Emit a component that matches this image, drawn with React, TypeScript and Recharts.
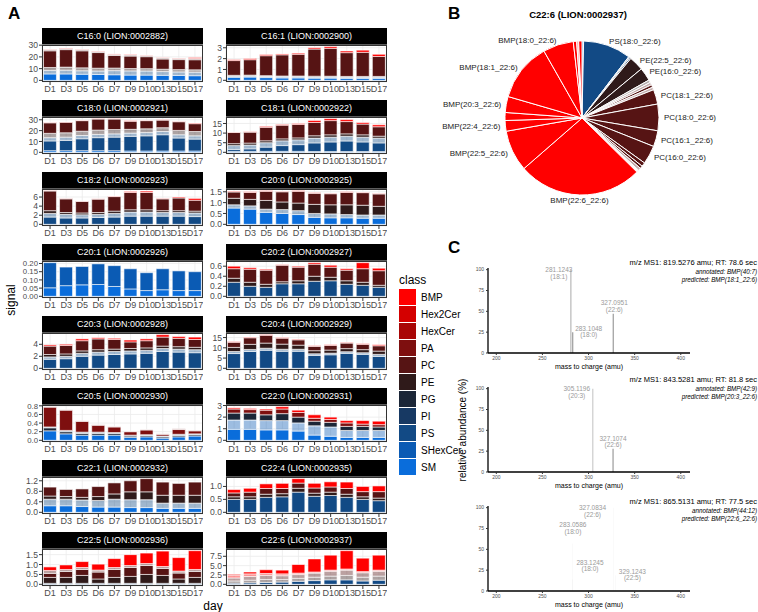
import React from "react";
import { BarChart, Bar, XAxis, YAxis, CartesianGrid, PieChart, Pie, Cell, LabelList } from "recharts";

const FONT = "'Liberation Sans', Arial, Helvetica, sans-serif";
const INK = "#4d4d4d";

const DAYS = ["D1", "D3", "D5", "D6", "D7", "D9", "D10", "D13", "D15", "D17"];
const CLASSES = ["BMP", "Hex2Cer", "HexCer", "PA", "PC", "PE", "PG", "PI", "PS", "SHexCer", "SM"];
const CLASS_FILL: Record<string, string> = {
  BMP: "#ff0000", Hex2Cer: "#d40000", HexCer: "#a90606", PA: "#7e0f0f", PC: "#561414", PE: "#2f1a1a",
  PG: "#1b2637", PI: "#173963", PS: "#124a85", SHexCer: "#0b5bb4", SM: "#0a6ddb",
};

// facet stacks, bottom -> top ("*" = faint species of that class)
const C16_0_L = ["SM", "PS*", "PE*", "PC", "PC*", "BMP"];
const C16_0 = [
  [5.5, 5.5, 5.2, 5.0, 4.8, 4.5, 4.5, 4.3, 4.2, 4.0],
  [3.0, 3.2, 3.0, 3.0, 3.5, 3.6, 3.5, 3.2, 3.0, 3.0],
  [2.5, 2.6, 2.5, 2.4, 2.2, 2.0, 2.0, 2.0, 2.0, 2.0],
  [14.2, 14.9, 14.5, 13.3, 10.7, 10.6, 10.2, 8.7, 8.5, 8.6],
  [1.0, 1.0, 1.0, 1.0, 1.0, 1.0, 1.0, 1.0, 1.0, 1.1],
  [0.3, 0.3, 0.3, 0.3, 0.3, 0.3, 0.3, 0.3, 0.3, 0.8],
];
const C16_0_T = [0, 10, 20, 30];

const C16_1_L = ["SM", "PS*", "PE*", "PC", "BMP"];
const C16_1 = [
  [0.28, 0.3, 0.25, 0.22, 0.22, 0.2, 0.2, 0.18, 0.18, 0.18],
  [0.1, 0.1, 0.1, 0.1, 0.1, 0.1, 0.1, 0.1, 0.1, 0.1],
  [0.08, 0.08, 0.08, 0.08, 0.08, 0.08, 0.08, 0.08, 0.08, 0.08],
  [1.36, 1.42, 1.84, 1.95, 2.0, 2.5, 2.57, 2.19, 2.22, 1.84],
  [0.08, 0.1, 0.1, 0.08, 0.1, 0.12, 0.15, 0.15, 0.2, 0.2],
];
const C16_1_T = [0, 1, 2, 3];

const C18_0_L = ["SM", "PS", "PS*", "PE*", "PC", "BMP"];
const C18_0 = [
  [1.5, 1.5, 1.5, 1.5, 1.5, 1.2, 1.2, 1.2, 1.2, 1.2],
  [9, 9.5, 11, 12, 12.5, 13.5, 14, 15, 12, 11],
  [3, 3, 3, 3, 3, 3, 3, 3, 3, 3],
  [4, 4, 4, 4, 4, 3.5, 3.5, 3.5, 4, 4],
  [9.7, 9.7, 9.7, 10.2, 9.7, 7.5, 7.5, 7.0, 8.0, 7.2],
  [0.3, 0.3, 0.3, 0.3, 0.3, 0.3, 0.3, 0.3, 0.3, 0.6],
];
const C18_0_T = [0, 10, 20, 30];

const C18_1_L = ["SM", "PS", "PS*", "PE", "PC", "BMP"];
const C18_1 = [
  [0.5, 0.5, 0.5, 0.5, 0.5, 0.4, 0.4, 0.4, 0.4, 0.4],
  [1, 1.3, 2.2, 3, 3.5, 4.5, 5, 5.5, 5, 4.5],
  [2, 2, 2.3, 2.5, 2.5, 2.5, 2.5, 2.5, 2.5, 2.5],
  [1, 1, 1, 1, 1, 1.2, 1.2, 1.2, 1.2, 1],
  [5.8, 5.7, 7.0, 7.1, 7.0, 6.9, 7.4, 6.4, 5.6, 4.9],
  [0.2, 0.2, 0.5, 0.4, 0.5, 1, 1, 1, 0.8, 1],
];
const C18_1_T = [0, 5, 10, 15];

const C18_2_L = ["PS", "PS*", "PE", "PC", "BMP"];
const C18_2 = [
  [1.6, 1.4, 1.4, 1.5, 1.6, 1.8, 1.8, 1.8, 1.8, 1.7],
  [0.8, 0.8, 0.7, 0.7, 0.8, 0.9, 0.9, 0.8, 0.8, 0.8],
  [0.6, 0.4, 0.4, 0.4, 0.5, 0.5, 0.5, 0.4, 0.4, 0.4],
  [4.35, 3.0, 2.55, 2.95, 3.2, 3.8, 3.8, 2.6, 2.8, 2.4],
  [0.05, 0.1, 0.05, 0.05, 0.1, 0.2, 0.3, 0.1, 0.2, 0.4],
];
const C18_2_T = [0, 2, 4, 6];

const C20_0_L = ["SM", "PS*", "PE", "PC", "BMP"];
const C20_0 = [
  [0.75, 0.7, 0.55, 0.5, 0.45, 0.32, 0.3, 0.3, 0.28, 0.28],
  [0.15, 0.15, 0.15, 0.18, 0.18, 0.18, 0.18, 0.15, 0.15, 0.15],
  [0.3, 0.3, 0.4, 0.35, 0.35, 0.42, 0.42, 0.45, 0.45, 0.4],
  [0.29, 0.32, 0.42, 0.47, 0.54, 0.51, 0.51, 0.57, 0.58, 0.57],
  [0.03, 0.03, 0.03, 0.02, 0.03, 0.02, 0.02, 0.03, 0.02, 0.02],
];
const C20_0_T = [0, 0.5, 1, 1.5];

const C20_1_L = ["SM", "SHexCer"];
const C20_1 = [
  [0.052, 0.065, 0.07, 0.072, 0.06, 0.045, 0.035, 0.04, 0.035, 0.035],
  [0.153, 0.113, 0.112, 0.126, 0.127, 0.123, 0.109, 0.128, 0.12, 0.115],
];
const C20_1_T = [0, 0.05, 0.1, 0.15, 0.2];

const C20_2_L = ["PS", "PE", "PC", "BMP"];
const C20_2 = [
  [0.28, 0.2, 0.18, 0.25, 0.25, 0.3, 0.31, 0.24, 0.22, 0.18],
  [0.08, 0.08, 0.06, 0.04, 0.06, 0.1, 0.07, 0.07, 0.06, 0.04],
  [0.19, 0.26, 0.28, 0.33, 0.27, 0.24, 0.2, 0.21, 0.27, 0.29],
  [0.05, 0.03, 0.02, 0.01, 0.02, 0.03, 0.04, 0.03, 0.12, 0.05],
];
const C20_2_T = [0, 0.2, 0.4, 0.6];

const C20_3_L = ["PS", "PS*", "PE", "PC", "BMP"];
const C20_3 = [
  [1.5, 1.6, 2.0, 2.2, 2.3, 2.4, 2.5, 2.8, 2.7, 2.6],
  [0.4, 0.4, 0.5, 0.5, 0.5, 0.5, 0.5, 0.5, 0.5, 0.5],
  [0.4, 0.4, 0.4, 0.4, 0.4, 0.4, 0.4, 0.4, 0.4, 0.4],
  [1.4, 1.4, 1.7, 1.8, 1.6, 1.1, 1.2, 1.5, 1.4, 1.3],
  [0.2, 0.2, 0.3, 0.2, 0.2, 0.3, 0.3, 0.4, 0.3, 0.4],
];
const C20_3_T = [0, 2, 4];

const C20_4_L = ["PS", "PS*", "PE", "PC", "BMP"];
const C20_4 = [
  [7.2, 8.2, 8.8, 8.3, 8.3, 6.3, 6.6, 7.3, 6.8, 5.8],
  [1, 1, 1, 1, 1, 0.8, 0.8, 0.8, 0.8, 1],
  [2, 2.5, 2.5, 2.5, 2, 1.5, 1.5, 1.5, 1.5, 1.6],
  [2.5, 3.2, 3.8, 2.9, 2.6, 2.1, 2.3, 2.7, 2.6, 2.6],
  [0.3, 0.3, 0.3, 0.3, 0.3, 0.3, 0.3, 0.3, 0.3, 0.5],
];
const C20_4_T = [0, 5, 10, 15];

const C20_5_L = ["SM", "PG", "PS*", "PA", "PA*"];
const C20_5 = [
  [0.22, 0.15, 0.12, 0.12, 0.12, 0.07, 0.08, 0.05, 0.08, 0.1],
  [0.07, 0.05, 0.04, 0.04, 0.04, 0.03, 0.03, 0.03, 0.03, 0.03],
  [0.02, 0.03, 0.03, 0.03, 0.02, 0.02, 0.02, 0.02, 0.03, 0.02],
  [0.46, 0.47, 0.25, 0.16, 0.13, 0.08, 0.11, 0.04, 0.11, 0.07],
  [0.01, 0.01, 0.01, 0.01, 0.01, 0.01, 0.01, 0.01, 0.02, 0.01],
];
const C20_5_T = [0, 0.2, 0.4, 0.6, 0.8];

const C22_0_L = ["SM", "SHexCer*", "PG", "PA", "BMP"];
const C22_0 = [
  [0.95, 0.95, 0.9, 0.9, 0.8, 0.45, 0.35, 0.25, 0.25, 0.25],
  [0.8, 0.8, 0.8, 0.8, 0.7, 0.8, 0.8, 0.6, 0.6, 0.6],
  [0.6, 0.6, 0.5, 0.6, 0.5, 0.4, 0.4, 0.35, 0.35, 0.3],
  [0.35, 0.3, 0.4, 0.4, 0.4, 0.25, 0.25, 0.3, 0.2, 0.2],
  [0.1, 0.1, 0.1, 0.2, 0.2, 0.3, 0.2, 0.2, 0.3, 0.3],
];
const C22_0_T = [0, 1, 2, 3];

const C22_1_L = ["SM", "PS*", "PE", "PC"];
const C22_1 = [
  [0.25, 0.25, 0.22, 0.2, 0.2, 0.18, 0.18, 0.15, 0.15, 0.15],
  [0.25, 0.25, 0.25, 0.25, 0.3, 0.3, 0.3, 0.2, 0.2, 0.2],
  [0.12, 0.1, 0.1, 0.15, 0.2, 0.3, 0.3, 0.3, 0.3, 0.3],
  [0.34, 0.27, 0.32, 0.38, 0.42, 0.42, 0.5, 0.5, 0.45, 0.5],
];
const C22_1_T = [0, 0.4, 0.8, 1.2];

const C22_4_L = ["PS", "PE", "PC", "BMP"];
const C22_4 = [
  [0.5, 0.5, 0.58, 0.6, 0.78, 0.62, 0.65, 0.58, 0.5, 0.45],
  [0.1, 0.1, 0.12, 0.12, 0.15, 0.12, 0.13, 0.12, 0.1, 0.1],
  [0.15, 0.18, 0.22, 0.2, 0.2, 0.2, 0.2, 0.22, 0.2, 0.25],
  [0.13, 0.15, 0.18, 0.2, 0.17, 0.18, 0.2, 0.25, 0.2, 0.22],
];
const C22_4_T = [0, 0.5, 1];

const C22_5_L = ["PS", "PE", "PC", "PC*", "BMP"];
const C22_5 = [
  [0.05, 0.05, 0.05, 0.05, 0.05, 0.05, 0.05, 0.05, 0.05, 0.05],
  [0.3, 0.3, 0.4, 0.22, 0.3, 0.35, 0.45, 0.4, 0.22, 0.3],
  [0.2, 0.3, 0.3, 0.35, 0.4, 0.45, 0.45, 0.35, 0.3, 0.3],
  [0.15, 0.1, 0.1, 0.1, 0.1, 0.1, 0.1, 0.1, 0.1, 0.1],
  [0.18, 0.23, 0.3, 0.3, 0.45, 0.55, 0.53, 0.78, 0.68, 0.95],
];
const C22_5_T = [0, 0.5, 1, 1.5];

const C22_6_L = ["PS", "PE*", "PC*", "BMP*", "BMP"];
const C22_6 = [
  [0.3, 0.4, 0.5, 0.6, 0.8, 1.0, 1.2, 1.2, 0.9, 1.1],
  [0.6, 0.7, 0.8, 0.7, 0.8, 0.9, 1.0, 1.2, 1.0, 1.1],
  [0.8, 1.0, 1.1, 1.0, 1.0, 1.1, 1.3, 1.4, 1.2, 1.3],
  [0.8, 0.7, 0.5, 0.5, 0.4, 0.3, 0.3, 0.3, 0.3, 0.3],
  [0.2, 0.5, 1.0, 1.0, 2.3, 3.5, 4.0, 4.9, 3.6, 4.0],
];
const C22_6_T = [0, 2.5, 5, 7.5];

const FACETS: [string, string[], number[][], number[]][] = [
  ["C16:0 (LION:0002882)", C16_0_L, C16_0, C16_0_T],
  ["C16:1 (LION:0002900)", C16_1_L, C16_1, C16_1_T],
  ["C18:0 (LION:0002921)", C18_0_L, C18_0, C18_0_T],
  ["C18:1 (LION:0002922)", C18_1_L, C18_1, C18_1_T],
  ["C18:2 (LION:0002923)", C18_2_L, C18_2, C18_2_T],
  ["C20:0 (LION:0002925)", C20_0_L, C20_0, C20_0_T],
  ["C20:1 (LION:0002926)", C20_1_L, C20_1, C20_1_T],
  ["C20:2 (LION:0002927)", C20_2_L, C20_2, C20_2_T],
  ["C20:3 (LION:0002928)", C20_3_L, C20_3, C20_3_T],
  ["C20:4 (LION:0002929)", C20_4_L, C20_4, C20_4_T],
  ["C20:5 (LION:0002930)", C20_5_L, C20_5, C20_5_T],
  ["C22:0 (LION:0002931)", C22_0_L, C22_0, C22_0_T],
  ["C22:1 (LION:0002932)", C22_1_L, C22_1, C22_1_T],
  ["C22:4 (LION:0002935)", C22_4_L, C22_4, C22_4_T],
  ["C22:5 (LION:0002936)", C22_5_L, C22_5, C22_5_T],
  ["C22:6 (LION:0002937)", C22_6_L, C22_6, C22_6_T],
];

// pie: C22:6 species, clockwise from 12 o'clock
const PIE_NAMES = [
  "SM(d18:1_22:6)", "PS(18:0_22:6)", "PS(20:0_22:6)", "PI(18:0_22:6)", "PE(22:5_22:6)", "PE(16:0_22:6)",
  "PE(18:1_22:6)", "PC(20:4_22:6)", "PC(18:2_22:6)", "PC(20:5_22:6)", "PC(18:1_22:6)", "PC(18:0_22:6)",
  "PC(16:1_22:6)", "PC(16:0_22:6)", "PC(22:6_22:6)", "PC(14:0_22:6)", "PC(15:0_22:6)", "PA(16:0_22:6)",
  "HexCer(22:6)", "Hex2Cer(22:6)", "BMP(22:6_22:6)", "BMP(22:5_22:6)", "BMP(22:4_22:6)", "BMP(20:4_22:6)",
  "BMP(20:3_22:6)", "BMP(18:1_22:6)", "BMP(18:0_22:6)", "BMP(16:0_22:6)", "BMP(18:2_22:6)", "BMP(16:1_22:6)",
];
const PIE_VALUES = [1.2, 36, 1, 1, 11, 10, 2, 2, 2, 2, 11, 20, 12, 14, 3, 2, 2, 0.6, 0.6, 0.6, 94, 31, 8, 6, 12, 44, 23, 2.5, 1.5, 2.5];
const PIE_CLASS = [
  "SM", "PS", "PS*", "PI", "PE", "PE", "PE*", "PC*", "PC", "PC*", "PC", "PC", "PC", "PC", "PC", "PC", "PC*",
  "PA*", "HexCer*", "Hex2Cer*", "BMP", "BMP", "BMP", "BMP", "BMP", "BMP", "BMP", "BMP", "BMP*", "BMP",
];

// MS2 spectra
const MZ_TICKS = [200, 250, 300, 350, 400];
const AB_TICKS = [0, 25, 50, 75, 100];
const S1_MZ = [281.1243, 283.1048, 327.0951];
const S1_AB = [100, 25, 47];
const S1_FA = ["18:1", "18:0", "22:6"];
const S2_MZ = [305.1196, 327.1074];
const S2_AB = [100, 28];
const S2_FA = ["20:3", "22:6"];
const S3_MZ = [283.0586, 283.1245, 327.0834, 329.1243];
const S3_AB = [57, 14, 100, 19];
const S3_FA = ["18:0", "18:0", "22:6", "22:5"];

// label nudges (px) for the peak annotations
const S1_NUDGE = [[-12, 2.5], [16, -1.5], [1, -8.5]];
const S2_NUDGE = [[-16, 2.5], [0, -8]];
const S3_NUDGE = [[0, -16.5], [17, -14.5], [-21, 2.5], [17, -1.5]];
const S1_TONE = ["#bdbdbd", "#a3a3a3", "#a3a3a3"];
const S2_TONE = ["#d0d0d0", "#a3a3a3"];
const S3_TONE = ["#a3a3a3", "#a3a3a3", "#a3a3a3", "#a3a3a3"];

function fillOf(key: string) {
  return CLASS_FILL[key.replace("*", "")];
}

function Txt({ x, y, size = 10, anchor = "middle", rotate = false, style, children }: any) {
  const tx = anchor === "start" ? "0" : anchor === "end" ? "-100%" : "-50%";
  return (
    <div style={{
      position: "absolute", left: x, top: y, fontSize: size, lineHeight: 1, whiteSpace: "nowrap",
      transform: `translate(${tx},-50%)` + (rotate ? " rotate(-90deg)" : ""), ...style,
    }}>{children}</div>
  );
}

const PW = 161, PH = 37, YW = 42, XH = 14, PAD = 6;

function Facet({ left, stripTop, title, layers, vals, ticks }: any) {
  const data = DAYS.map((d, i) => {
    const r: any = { day: d };
    vals.forEach((v: number[], k: number) => (r["l" + k] = v[i]));
    return r;
  });
  const totals = DAYS.map((_, i) => vals.reduce((s: number, v: number[]) => s + v[i], 0));
  const top = Math.max(...totals);
  const hi = Math.max(top * 1.05, ticks[ticks.length - 1] + top * 0.005);
  const lo = -top * 0.05;
  const dec = Math.max(...ticks.map((t: number) => (String(t).split(".")[1] || "").length));
  return (
    <>
      <div style={{
        position: "absolute", left: left + YW, top: stripTop, width: PW, height: 17, background: "#000",
        color: "#fff", fontSize: 9, lineHeight: "17px", textAlign: "center",
      }}>{title}</div>
      <div style={{ position: "absolute", left, top: stripTop + 17 - PAD }}>
        <BarChart width={YW + PW} height={PH + XH + PAD} data={data} margin={{ top: PAD, right: 0, bottom: 0, left: 0 }} barCategoryGap="9%">
          <CartesianGrid stroke="#ebebeb" strokeWidth={0.8} />
          <XAxis dataKey="day" interval={0} height={XH} tickSize={3} tickMargin={1} axisLine={false}
            tickLine={{ stroke: "#333" }} tick={{ fontSize: 9, fill: INK, fontFamily: FONT }} />
          <YAxis type="number" domain={[lo, hi]} ticks={ticks} interval={0} width={YW} tickSize={3} tickMargin={1} axisLine={false}
            tickLine={{ stroke: "#333" }} tick={{ fontSize: ticks.length > 4 ? 7.8 : 8.6, fill: INK, fontFamily: FONT }}
            tickFormatter={(v: number) => v.toFixed(dec)} />
          {layers.map((l: string, k: number) => (
            <Bar key={k} dataKey={"l" + k} stackId="s" fill={fillOf(l)} fillOpacity={l.endsWith("*") ? 0.4 : 1}
              stroke="#fff" strokeWidth={0.6} isAnimationActive={false} />
          ))}
        </BarChart>
      </div>
      <div style={{
        position: "absolute", left: left + YW, top: stripTop + 17, width: PW, height: PH,
        border: "1px solid #333", boxSizing: "border-box", pointerEvents: "none",
      }} />
    </>
  );
}

function pieLabel(p: any) {
  if (p.value < 8) return null;
  const R = p.outerRadius + 5;
  const a = (-p.midAngle * Math.PI) / 180;
  const x = p.cx + R * Math.cos(a), y = p.cy + R * Math.sin(a);
  const anchor = x > p.cx + 8 ? "start" : x < p.cx - 8 ? "end" : "middle";
  return (
    <text x={x} y={y} dy={3} textAnchor={anchor} fontSize={8} fill="#222" fontFamily={FONT}>{p.name}</text>
  );
}

const SP = 14; // headroom above each spectrum for the top labels

function Spectrum({ top, mz, ab, fa, nudge, tone, head, ann, pred, headY }: any) {
  const data = mz.map((m: number, i: number) => ({ mz: m, ab: ab[i] }));
  return (
    <>
      <div style={{ position: "absolute", left: 460, top: top - SP }}>
        <BarChart width={232} height={95 + SP} data={data} margin={{ top: SP, right: 2, bottom: 0, left: 0 }}>
          <XAxis type="number" dataKey="mz" domain={[191, 410]} ticks={MZ_TICKS} allowDataOverflow interval={0}
            height={10} tickSize={2} tickMargin={1} axisLine={{ stroke: "#000", strokeWidth: 1.3 }}
            tickLine={{ stroke: "#333" }} tick={{ fontSize: 5, fill: INK, fontFamily: FONT }} />
          <YAxis type="number" domain={[0, 102]} ticks={AB_TICKS} interval={0} width={28} tickSize={2} tickMargin={2}
            axisLine={{ stroke: "#000", strokeWidth: 1.3 }} tickLine={{ stroke: "#333" }}
            tick={{ fontSize: 5, fill: INK, fontFamily: FONT }} />
          <Bar dataKey="ab" barSize={1.3} isAnimationActive={false}>
            {data.map((_: any, i: number) => <Cell key={i} fill={tone[i]} />)}
            <LabelList dataKey="ab" content={(p: any) => {
              const i = p.index;
              const cx = p.x + p.width / 2 + nudge[i][0];
              const by = p.y + nudge[i][1];
              return (
                <g fontSize={6.5} fill="#9a9a9a" fontFamily={FONT} textAnchor="middle">
                  <text x={cx} y={by}>{mz[i].toFixed(4)}</text>
                  <text x={cx} y={by + 6.5}>({fa[i]})</text>
                </g>
              );
            }} />
          </Bar>
        </BarChart>
      </div>
      <Txt x={589} y={top + 98} size={7}>mass to charge (amu)</Txt>
      <Txt x={757} y={headY} size={7.5} anchor="end">{head}</Txt>
      <Txt x={757} y={headY + 9} size={6.3} anchor="end" style={{ fontStyle: "italic" }}>{ann}</Txt>
      <Txt x={757} y={headY + 17} size={6.3} anchor="end" style={{ fontStyle: "italic" }}>{pred}</Txt>
    </>
  );
}

export default function App() {
  const pieData = PIE_NAMES.map((n, i) => ({ name: n, value: PIE_VALUES[i] }));
  return (
    <div style={{ position: "absolute", left: 0, top: 0, width: 758, height: 612, background: "#fff", fontFamily: FONT, color: "#000", overflow: "hidden" }}>
      {FACETS.map(([title, layers, vals, ticks], i) => (
        <Facet key={title} left={i % 2 ? 184 : 0} stripTop={28 + Math.floor(i / 2) * 72}
          title={title} layers={layers} vals={vals} ticks={ticks} />
      ))}
      <Txt x={11} y={300} size={12} rotate>signal</Txt>
      <Txt x={213} y={606} size={12}>day</Txt>

      <Txt x={399} y={280} size={12} anchor="start">class</Txt>
      {CLASSES.map((c, i) => (
        <React.Fragment key={c}>
          <div style={{ position: "absolute", left: 399, top: 289 + i * 17, width: 17, height: 16, background: CLASS_FILL[c] }} />
          <Txt x={421} y={297.5 + i * 17} size={10} anchor="start">{c}</Txt>
        </React.Fragment>
      ))}

      <Txt x={578} y={15} size={9.5} style={{ fontWeight: 700 }}>C22:6 (LION:0002937)</Txt>
      <div style={{ position: "absolute", left: 392, top: 20 }}>
        <PieChart width={360} height={200} margin={{ top: 0, right: 0, bottom: 0, left: 0 }}>
          <Pie data={pieData} dataKey="value" nameKey="name" cx={190} cy={98} outerRadius={77}
            startAngle={90} endAngle={-270} stroke="#fff" strokeWidth={1} label={pieLabel} labelLine={false}
            isAnimationActive={false}>
            {pieData.map((_, i) => (
              <Cell key={i} fill={fillOf(PIE_CLASS[i])} fillOpacity={PIE_CLASS[i].endsWith("*") ? 0.35 : 1} />
            ))}
          </Pie>
        </PieChart>
      </div>

      <Txt x={463} y={430} size={10} rotate>relative abundance (%)</Txt>
      <Spectrum top={268} headY={263} mz={S1_MZ} ab={S1_AB} fa={S1_FA} nudge={S1_NUDGE} tone={S1_TONE}
        head="m/z MS1: 819.5276 amu; RT: 78.6 sec" ann="annotated: BMP(40:7)" pred="predicted: BMP(18:1_22:6)" />
      <Spectrum top={387} headY={380} mz={S2_MZ} ab={S2_AB} fa={S2_FA} nudge={S2_NUDGE} tone={S2_TONE}
        head="m/z MS1: 843.5281 amu; RT: 81.8 sec" ann="annotated: BMP(42:9)" pred="predicted: BMP(20:3_22:6)" />
      <Spectrum top={506} headY={502} mz={S3_MZ} ab={S3_AB} fa={S3_FA} nudge={S3_NUDGE} tone={S3_TONE}
        head="m/z MS1: 865.5131 amu; RT: 77.5 sec" ann="annotated: BMP(44:12)" pred="predicted: BMP(22:6_22:6)" />

      <Txt x={8} y={13} size={17} anchor="start" style={{ fontWeight: 700 }}>A</Txt>
      <Txt x={448} y={13} size={17} anchor="start" style={{ fontWeight: 700 }}>B</Txt>
      <Txt x={448} y={247} size={17} anchor="start" style={{ fontWeight: 700 }}>C</Txt>
    </div>
  );
}
